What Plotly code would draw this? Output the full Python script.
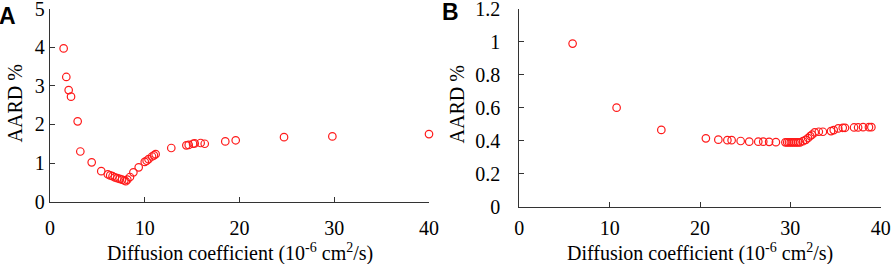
import plotly.graph_objects as go

# Panel A data
a_x = [1.44, 1.72, 1.97, 2.22, 2.92, 3.2, 4.4, 5.41, 6.1, 6.35, 6.6, 6.85, 7.1, 7.35,
       7.6, 7.85, 8.0, 8.16, 8.44, 8.8, 9.36, 10.0, 10.2, 10.4, 10.77, 10.97, 11.15,
       12.8, 14.39, 14.64, 15.1, 15.27, 15.9, 16.33, 18.5, 19.6, 24.7, 29.8, 40.0]
a_y = [3.97, 3.23, 2.89, 2.72, 2.08, 1.30, 1.02, 0.79, 0.71, 0.68, 0.66, 0.63, 0.61,
       0.59, 0.57, 0.55, 0.53, 0.57, 0.64, 0.76, 0.89, 1.03, 1.06, 1.10, 1.17, 1.20,
       1.23, 1.39, 1.46, 1.47, 1.50, 1.51, 1.52, 1.50, 1.56, 1.59, 1.67, 1.69, 1.75]

# Panel B data
b_x = [5.9, 10.77, 15.72, 20.65, 22.03, 23.03, 23.5, 24.5, 25.45, 26.45, 27.0, 27.65,
       28.4, 29.45, 29.65, 29.85, 30.05, 30.25, 30.45, 30.65, 30.85, 31.07, 31.4, 31.7,
       31.96, 32.2, 32.4, 32.7, 33.15, 33.6, 34.5, 34.8, 35.3, 35.8, 36.05, 37.05,
       37.5, 38.05, 38.7, 38.97]
b_y = [0.988, 0.600, 0.465, 0.414, 0.406, 0.403, 0.403, 0.398, 0.394, 0.394, 0.394,
       0.393, 0.391, 0.390, 0.390, 0.390, 0.390, 0.390, 0.390, 0.390, 0.390, 0.390,
       0.397, 0.405, 0.416, 0.428, 0.436, 0.450, 0.454, 0.454, 0.458, 0.464, 0.474,
       0.478, 0.478, 0.480, 0.480, 0.482, 0.482, 0.482]

x_ticks = [0, 10, 20, 30, 40]
a_yticks = [0, 1, 2, 3, 4, 5]
b_yticks = [0, 0.2, 0.4, 0.6, 0.8, 1.0, 1.2]
b_yticktext = ["0", "0.2", "0.4", "0.6", "0.8", "1", "1.2"]

x_title = "Diffusion coefficient (10<sup>-6</sup> cm<sup>2</sup>/s)"
y_title = "AARD %"

W, H = 892, 264
FONT = "Liberation Serif"
AX = "#333333"
FS = 20

marker = dict(symbol="circle-open", size=7.5, color="#ff1a1a", line=dict(width=1.2, color="#ff1a1a"))

fig = go.Figure()
fig.add_trace(go.Scatter(x=a_x, y=a_y, mode="markers", marker=marker, xaxis="x", yaxis="y",
                         cliponaxis=False, showlegend=False))
fig.add_trace(go.Scatter(x=b_x, y=b_y, mode="markers", marker=marker, xaxis="x2", yaxis="y2",
                         cliponaxis=False, showlegend=False))

def axstyle(**kw):
    d = dict(ticks="inside", ticklen=5, tickwidth=1.3, tickcolor=AX, showline=True,
             linecolor=AX, linewidth=1.3, showgrid=False, zeroline=False,
             ticklabeloverflow="allow",
             tickfont=dict(family=FONT, size=FS, color="black"))
    d.update(kw)
    return d

fig.update_layout(
    width=W, height=H, margin=dict(l=0, r=0, t=0, b=0, autoexpand=False),
    paper_bgcolor="white", plot_bgcolor="white",
    xaxis=axstyle(domain=[50 / W, 429 / W], anchor="y", range=[0, 40], tickvals=x_ticks,
                  ticklabelstandoff=8),
    yaxis=axstyle(domain=[(H - 201.7) / H, (H - 8.6) / H], anchor="x", range=[0, 5],
                  tickvals=a_yticks, ticklabelstandoff=0),
    xaxis2=axstyle(domain=[519.3 / W, 880.7 / W], anchor="y2", range=[0, 40], tickvals=x_ticks,
                   ticklabelstandoff=3),
    yaxis2=axstyle(domain=[(H - 206.7) / H, (H - 8.6) / H], anchor="x2", range=[0, 1.2],
                   tickvals=b_yticks, ticktext=b_yticktext, ticklabelstandoff=14),
)

def ann(text, x, y, size=FS, family=FONT, angle=0, bold=False):
    fig.add_annotation(text=("<b>%s</b>" % text) if bold else text, x=x / W, y=1 - y / H,
                       xref="paper", yref="paper", showarrow=False, textangle=angle,
                       xanchor="center", yanchor="middle",
                       font=dict(family=family, size=size, color="black"))

ann(x_title, 240, 252)
ann(x_title, 700, 252)
ann(y_title, 14.5, 104, angle=-90)
ann(y_title, 456.5, 104, angle=-90)
ann("A", 7, 16, size=23, family="Liberation Sans", bold=True)
ann("B", 451, 12, size=23, family="Liberation Sans", bold=True)

fig.write_html("out.html", config={"displayModeBar": False},
               post_script="document.body.style.margin='0';document.body.style.overflow='hidden';")
